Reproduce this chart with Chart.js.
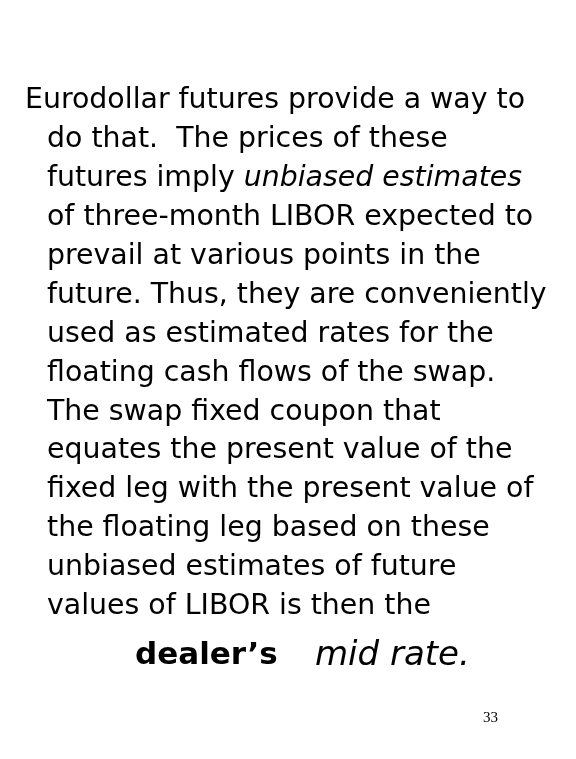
<!DOCTYPE html>
<html>
<head>
<meta charset="utf-8">
<script src="https://cdn.jsdelivr.net/npm/chart.js@4.4.1/dist/chart.umd.min.js"></script>
<style>
  html, body { margin: 0; padding: 0; background: #fff; }
  #wrap { position: relative; width: 576px; height: 759px; }
</style>
</head>
<body>
<div id="wrap"><canvas id="slide"></canvas></div>
<script>
// Slide text, one entry per line: [text segments], each segment [string, style]
const bodyLines = [
  [['Eurodollar futures provide a way to', 'n']],
  [['do that.  The prices of these', 'n']],
  [['futures imply ', 'n'], ['unbiased estimates', 'i']],
  [['of three-month LIBOR expected to', 'n']],
  [['prevail at various points in the', 'n']],
  [['future. Thus, they are conveniently', 'n']],
  [['used as estimated rates for the', 'n']],
  [['floating cash flows of the swap.', 'n']],
  [['The swap fixed coupon that', 'n']],
  [['equates the present value of the', 'n']],
  [['fixed leg with the present value of', 'n']],
  [['the floating leg based on these', 'n']],
  [['unbiased estimates of future', 'n']],
  [['values of LIBOR is then the', 'n']]
];
const closingWords = [['dealer\u2019s', 'b'], ['mid rate.', 'i']];
const pageNumber = '33';

const FAMILY = '"DejaVu Sans", Verdana, sans-serif';
function fontFor(style, size) {
  if (style === 'b') return 'bold ' + size + 'px ' + FAMILY;
  if (style === 'i') return 'italic ' + size + 'px ' + FAMILY;
  return size + 'px ' + FAMILY;
}

const slideText = {
  id: 'slideText',
  afterDraw(chart) {
    const ctx = chart.ctx;
    ctx.save();
    ctx.fillStyle = '#000';
    ctx.textBaseline = 'middle';
    bodyLines.forEach((segs, i) => {
      let x = i === 0 ? 25 : 47;
      const y = 101 + i * 38.9;
      segs.forEach(([t, s]) => {
        ctx.font = fontFor(s, 28.4);
        ctx.fillText(t, x, y);
        x += ctx.measureText(t).width;
      });
    });
    ctx.font = fontFor('b', 31);
    ctx.fillText(closingWords[0][0], 135, 656);
    ctx.font = fontFor('i', 34);
    ctx.fillText(closingWords[1][0], 315, 656);
    ctx.font = '15px "Liberation Serif", serif';
    ctx.fillText(pageNumber, 483, 718);
    ctx.restore();
  }
};

new Chart(document.getElementById('slide'), {
  type: 'line',
  data: { labels: [], datasets: [] },
  options: {
    responsive: true,
    maintainAspectRatio: false,
    animation: false,
    events: [],
    plugins: { legend: { display: false }, tooltip: { enabled: false } },
    scales: { x: { display: false }, y: { display: false } }
  },
  plugins: [slideText]
});
</script>
</body>
</html>
